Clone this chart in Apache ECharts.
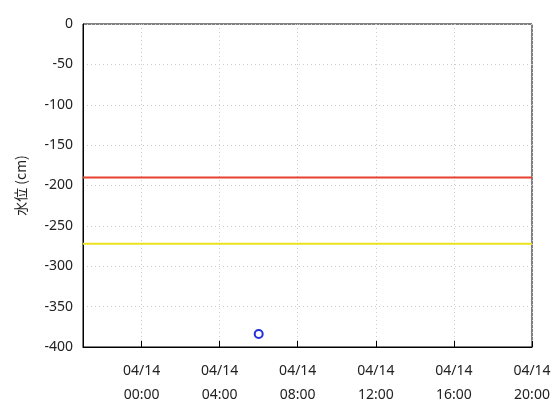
<!DOCTYPE html>
<html>
<head>
<meta charset="utf-8">
<script src="https://cdn.jsdelivr.net/npm/echarts@6/dist/echarts.min.js"></script>
<style>html,body{margin:0;padding:0;background:#fff}#chart{width:560px;height:420px}</style>
</head>
<body>
<div id="chart"></div>
<script>
// time range (local time), hours on 2024-04-14
const xStart = [2024, 3, 13, 21]
const xEnd = [2024, 3, 14, 20]
const redLevel = -190
const yellowLevel = -272
const obsTimes = [[2024, 3, 14, 6]]
const obsValues = [-384]
const yTicks = [0, -400, 50]  // max, min, interval

const t = (a) => new Date(a[0], a[1], a[2], a[3]).getTime()
const tMin = t(xStart), tMax = t(xEnd)

const chart = echarts.init(document.getElementById('chart'))
const pad = (n) => (n < 10 ? '0' : '') + n
chart.setOption({
  animation: false,
  grid: { left: 83, right: 28, top: 24, bottom: 73, show: true, borderColor: '#000', borderWidth: 1 },
  xAxis: {
    type: 'time', min: tMin, max: tMax,
    interval: 4 * 3600 * 1000, minInterval: 4 * 3600 * 1000, maxInterval: 4 * 3600 * 1000,
    axisLine: { show: true, onZero: false, lineStyle: { color: '#000' } },
    axisTick: { inside: true, length: 6, lineStyle: { color: '#000' } },
    splitLine: { show: true, lineStyle: { color: '#ccc', type: [1, 3] } },
    axisLabel: {
      color: '#222', fontSize: 14, fontFamily: 'Noto Sans', lineHeight: 24, margin: 12,
      showMinLabel: false, showMaxLabel: true,
      formatter: (v) => {
        const d = new Date(v)
        return pad(d.getMonth() + 1) + '/' + pad(d.getDate()) + '\n' + pad(d.getHours()) + ':' + pad(d.getMinutes())
      }
    }
  },
  yAxis: {
    type: 'value', max: yTicks[0], min: yTicks[1], interval: yTicks[2],
    name: '水位 (cm)', nameLocation: 'middle', nameGap: 55,
    nameTextStyle: { color: '#222', fontSize: 14, fontFamily: 'Noto Sans CJK JP' },
    axisLine: { show: true, onZero: false, lineStyle: { color: '#000' } },
    axisTick: { inside: true, length: 6, lineStyle: { color: '#000' } },
    splitLine: { show: true, lineStyle: { color: '#ccc', type: [1, 3] } },
    axisLabel: { color: '#222', fontSize: 14, fontFamily: 'Noto Sans', margin: 10 }
  },
  series: [
    { type: 'line', data: [[tMin, redLevel], [tMax, redLevel]], symbol: 'none',
      lineStyle: { color: '#e8402c', width: 2 } },
    { type: 'line', data: [[tMin, yellowLevel], [tMax, yellowLevel]], symbol: 'none',
      lineStyle: { color: '#ece21e', width: 2 } },
    { type: 'line', data: obsTimes.map((a, i) => [t(a), obsValues[i]]),
      showSymbol: true, showAllSymbol: true, symbol: 'emptyCircle', symbolSize: 8,
      lineStyle: { width: 0 },
      itemStyle: { color: '#2230e0', borderColor: '#2230e0', borderWidth: 1.2 } }
  ]
})
</script>
</body>
</html>
